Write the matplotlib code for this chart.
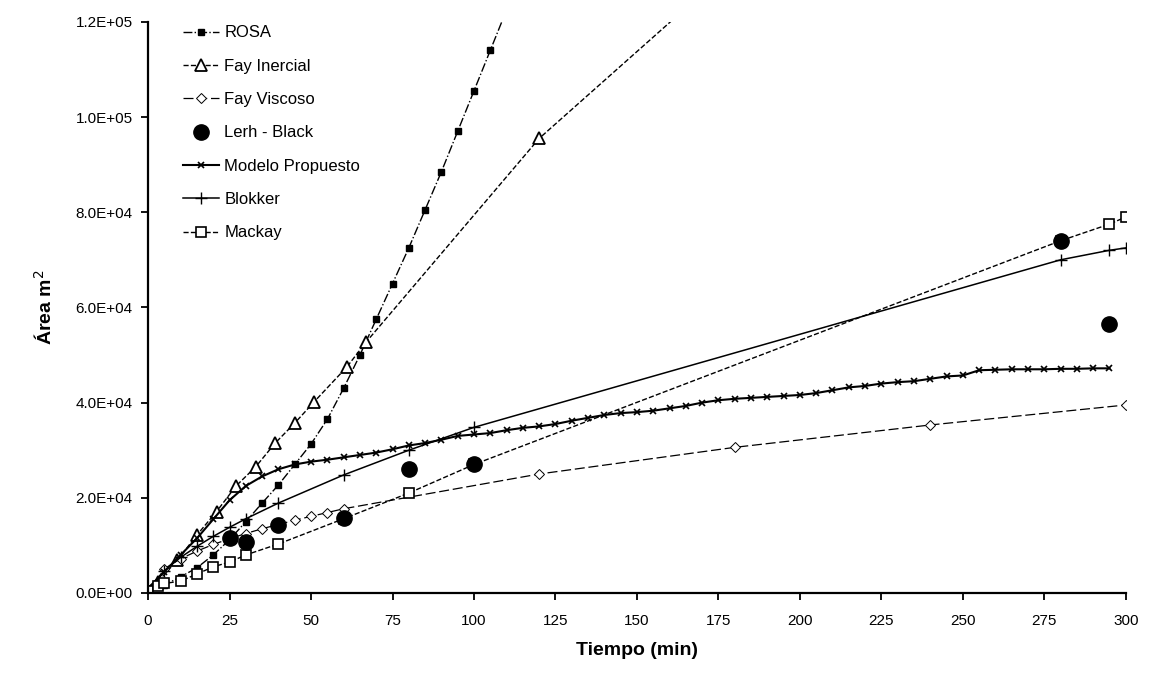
import matplotlib.pyplot as plt
from matplotlib.ticker import FuncFormatter

plt.rcParams['font.family'] = ['Liberation Sans', 'DejaVu Sans']

# ROSA
rosa_t = [0, 5, 10, 15, 20, 25, 30, 35, 40, 45, 50, 55, 60, 65, 70, 75, 80, 85, 90,
          95, 100, 105, 110]
rosa_a = [500, 1700, 3400, 5300, 8000, 11200, 15000, 18900, 22700, 27000, 31300,
          36500, 43000, 50000, 57500, 65000, 72500, 80500, 88500, 97000, 105500,
          114000, 122500]

# Fay inercial
fayi_t = [0, 3, 9, 15, 21, 27, 33, 39, 45, 51, 61, 67, 120, 180]
fayi_a = [0, 2400, 6900, 12200, 17100, 22500, 26500, 31500, 35700, 40200, 47500,
          52800, 95500, 132000]

# Fay viscoso
fayv_t = [0, 5, 10, 15, 20, 25, 30, 35, 40, 45, 50, 55, 60, 120, 180, 240, 300]
fayv_a = [0, 5100, 7200, 8800, 10200, 11400, 12500, 13500, 14400, 15300, 16100,
          16900, 17700, 25000, 30600, 35300, 39500]

# Lerh - Black (experimental)
lb_t = [25, 30, 40, 60, 80, 100, 280, 295]
lb_a = [11500, 10800, 14200, 15800, 26000, 27000, 74000, 56500]

# Modelo propuesto
mp_t = list(range(0, 300, 5))
mp_a = [1000, 4500, 8000, 11500, 15500, 19500, 22500, 24500, 26000, 27000, 27600,
        28000, 28500, 29000, 29500, 30200, 31000, 31500, 32200, 33000, 33300, 33600,
        34200, 34700, 35000, 35500, 36200, 36800, 37400, 37800, 38000, 38300, 38800,
        39300, 40000, 40500, 40800, 41000, 41200, 41400, 41600, 42000, 42600, 43200,
        43500, 44000, 44300, 44500, 45000, 45500, 45700, 46800, 46900, 47000, 47000,
        47000, 47100, 47100, 47200, 47200]

# Blokker
blk_t = [0, 5, 10, 15, 20, 25, 30, 40, 60, 80, 100, 280, 295, 300]
blk_a = [0, 4700, 7500, 9800, 11900, 13800, 15600, 18900, 24800, 30000, 34800,
         70000, 72000, 72500]

# Mackay
mk_t = [0, 3, 5, 10, 15, 20, 25, 30, 40, 60, 80, 100, 280, 295, 300]
mk_a = [500, 1500, 2000, 2500, 4000, 5500, 6500, 8000, 10300, 15600, 21000, 27000,
        74000, 77500, 79000]

fig = plt.figure(figsize=(11.57, 6.82), dpi=100)
ax = fig.add_axes([0.128, 0.1305, 0.845, 0.8375])

ax.plot(rosa_t, rosa_a, color='black', lw=1, linestyle='-.', marker='s', ms=5,
        mfc='black', label='ROSA')
ax.plot(fayi_t, fayi_a, color='black', lw=1, linestyle='--', marker='^', ms=9,
        mfc='white', mew=1.3, label='Fay Inercial')
ax.plot(fayv_t, fayv_a, color='black', lw=0.9, linestyle=(0, (8, 3)), marker='D',
        ms=5, mfc='white', mew=0.7, label='Fay Viscoso')
ax.plot(lb_t, lb_a, color='black', linestyle='none', marker='o', ms=11,
        zorder=5, label='Lerh - Black')
ax.plot(mp_t, mp_a, color='black', lw=1.5, linestyle='-', marker='x', ms=5,
        mew=1.2, label='Modelo Propuesto')
ax.plot(blk_t, blk_a, color='black', lw=1.1, linestyle='-', marker='+', ms=9,
        mew=1, label='Blokker')
ax.plot(mk_t, mk_a, color='black', lw=1, linestyle='--', marker='s', ms=7,
        mfc='white', mew=1.2, label='Mackay')

ax.set_xlim(0, 300)
ax.set_ylim(0, 120000)
ax.set_xticks(range(0, 301, 25))
ax.set_yticks(range(0, 120001, 20000))
ax.yaxis.set_major_formatter(FuncFormatter(lambda v, p: f'{v:.1E}'))

for s in ['top', 'right']:
    ax.spines[s].set_visible(False)
for s in ['left', 'bottom']:
    ax.spines[s].set_linewidth(1.6)
ax.tick_params(direction='out', length=5, width=1.3, labelsize=11)
ax.tick_params(axis='x', pad=10)
ax.tick_params(axis='y', pad=6)

ax.set_xlabel('Tiempo (min)', fontsize=14, fontweight='bold', labelpad=10)
ax.set_ylabel('Área m$^2$', fontsize=14, fontweight='bold', labelpad=14)

ax.legend(loc='upper left', bbox_to_anchor=(0.02, 1.02), frameon=False,
          fontsize=12, handlelength=2.2, labelspacing=1.1, handletextpad=0.3)

fig.savefig('out.png', dpi=100)
